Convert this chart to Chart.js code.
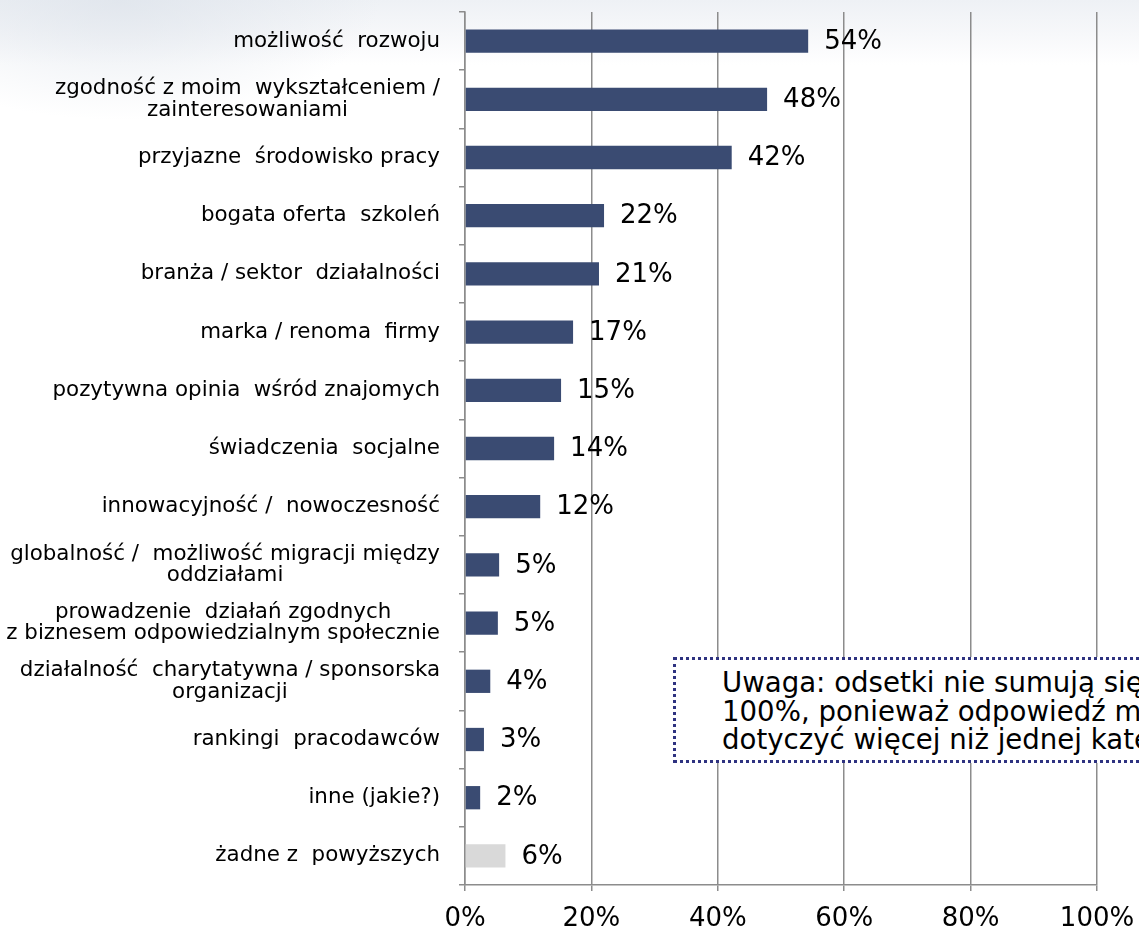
<!DOCTYPE html>
<html>
<head>
<meta charset="utf-8">
<title>Czynniki wyboru pracodawcy</title>
<script src="https://cdn.jsdelivr.net/npm/chart.js"></script>
<style>
    html, body { margin: 0; padding: 0; width: 1139px; height: 943px; overflow: hidden; }
    body {
        background:
            radial-gradient(ellipse 260px 120px at 120px 0px, rgba(220, 226, 234, 0.7), rgba(255, 255, 255, 0) 100%),
            linear-gradient(180deg, #eef1f5 0px, #f7f8fa 35px, #ffffff 65px);
        font-family: "DejaVu Sans", Verdana, sans-serif;
        position: relative;
    }
    #chart { position: absolute; left: 0; top: 0; }
    .note {
        position: absolute;
        left: 673px;
        top: 657px;
        width: 600px;
        height: 106px;
        border: 3px dotted #2e3280;
        background: #fff;
        box-sizing: border-box;
        padding: 9px 0 0 46px;
        font-size: 27.6px;
        line-height: 28.5px;
        color: #000;
        white-space: nowrap;
    }
</style>
</head>
<body>
<canvas id="chart" width="1139" height="943"></canvas>
<div class="note">Uwaga: odsetki nie sumują się do<br>100%, ponieważ odpowiedź mogła<br>dotyczyć więcej niż jednej kategorii</div>

<script>
// dane
const categories = [
    'możliwość  rozwoju',
    ['zgodność z moim  wykształceniem /', 'zainteresowaniami'],
    'przyjazne  środowisko pracy',
    'bogata oferta  szkoleń',
    'branża / sektor  działalności',
    'marka / renoma  firmy',
    'pozytywna opinia  wśród znajomych',
    'świadczenia  socjalne',
    'innowacyjność /  nowoczesność',
    ['globalność /  możliwość migracji między', 'oddziałami'],
    ['prowadzenie  działań zgodnych', 'z biznesem odpowiedzialnym społecznie'],
    ['działalność  charytatywna / sponsorska', 'organizacji'],
    'rankingi  pracodawców',
    'inne (jakie?)',
    'żadne z  powyższych'
];
const values = [54.3, 47.8, 42.2, 22.0, 21.2, 17.1, 15.2, 14.1, 11.9, 5.4, 5.2, 4.0, 3.0, 2.4, 6.4];
const shownLabels = ['54%', '48%', '42%', '22%', '21%', '17%', '15%', '14%', '12%', '5%', '5%', '4%', '3%', '2%', '6%'];
const xTicks = [0, 20, 40, 60, 80, 100];

const navy = '#3a4b72';
const lightGray = '#d9d9d9';
const gridGray = '#8c8c8c';

// etykiety kategorii (wiersze wyśrodkowane, blok do prawej)
const categoryLabels = {
    id: 'categoryLabels',
    afterDraw(chart) {
        const ctx = chart.ctx;
        const y = chart.scales.y;
        ctx.save();
        ctx.font = '21.4px "DejaVu Sans"';
        ctx.fillStyle = '#000';
        ctx.textAlign = 'center';
        ctx.textBaseline = 'middle';
        categories.forEach((lab, i) => {
            const lines = Array.isArray(lab) ? lab : [lab];
            const maxW = Math.max(...lines.map(l => ctx.measureText(l).width));
            const cx = 440 - maxW / 2;
            const cy = y.getPixelForValue(i);
            lines.forEach((l, j) => {
                ctx.fillText(l, cx, cy + (j - (lines.length - 1) / 2) * 21.5);
            });
        });
        ctx.restore();
    }
};

// wartości przy słupkach
const valueLabels = {
    id: 'valueLabels',
    afterDatasetsDraw(chart) {
        const ctx = chart.ctx;
        const meta = chart.getDatasetMeta(0);
        ctx.save();
        ctx.font = '26px "DejaVu Sans"';
        ctx.fillStyle = '#000';
        ctx.textAlign = 'left';
        ctx.textBaseline = 'middle';
        meta.data.forEach((bar, i) => {
            ctx.fillText(shownLabels[i], bar.x + 16, bar.y + 1);
        });
        ctx.restore();
    }
};

new Chart(document.getElementById('chart'), {
    type: 'bar',
    data: {
        labels: categories,
        datasets: [{
            data: values,
            backgroundColor: ctx => ctx.dataIndex === categories.length - 1 ? lightGray : navy,
            borderWidth: 0,
            categoryPercentage: 1,
            barPercentage: 0.4
        }]
    },
    options: {
        indexAxis: 'y',
        responsive: false,
        animation: false,
        layout: { padding: { top: 12, right: 42, left: 0, bottom: 0 } },
        plugins: {
            legend: { display: false },
            tooltip: { enabled: false }
        },
        scales: {
            x: {
                min: 0,
                max: 100,
                afterBuildTicks: scale => { scale.ticks = xTicks.map(v => ({ value: v })); },
                afterFit: scale => {
                    scale.height = 58;
                    // etykieta 100% może wychodzić poza płótno, jak w oryginale
                    scale.paddingLeft = 0;
                    scale.paddingRight = 0;
                },
                ticks: {
                    callback: v => v + '%',
                    color: '#000',
                    font: { family: 'DejaVu Sans', size: 26 },
                    padding: 13,
                    maxRotation: 0
                },
                grid: { color: gridGray, lineWidth: 1.5, tickLength: 6 },
                border: { color: gridGray, width: 1.5 }
            },
            y: {
                afterFit: scale => { scale.width = 465; },
                ticks: { display: false },
                grid: { offset: true, drawOnChartArea: false, color: gridGray, lineWidth: 1.5, tickLength: 6 },
                border: { color: gridGray, width: 1.5 }
            }
        }
    },
    plugins: [categoryLabels, valueLabels]
});
</script>
</body>
</html>
